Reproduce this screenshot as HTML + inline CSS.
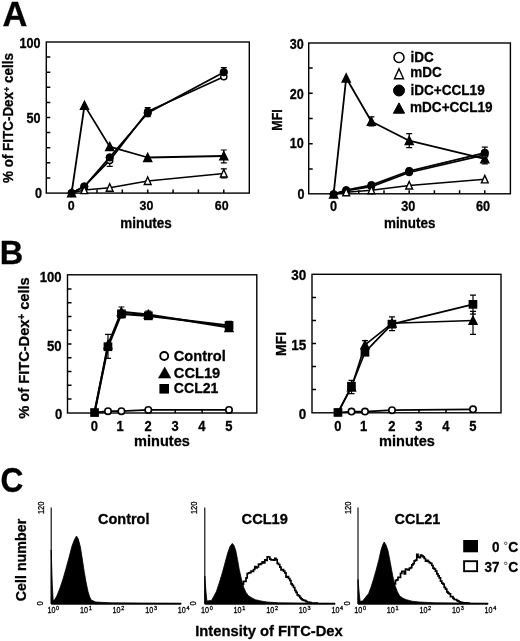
<!DOCTYPE html>
<html><head><meta charset="utf-8"><title>Figure</title>
<style>html,body{margin:0;padding:0;background:#fff}svg{display:block;filter:grayscale(1) blur(0.35px)}text{font-family:"Liberation Sans",sans-serif;fill:#000;stroke:#000;stroke-width:0.3px}</style></head><body>
<svg width="520" height="641" viewBox="0 0 520 641">
<rect width="520" height="641" fill="#fff"/>
<text x="2.4" y="26" font-size="34.2" text-anchor="start" font-weight="bold" textLength="24.9" lengthAdjust="spacingAndGlyphs" >A</text>
<text x="-0.3" y="263.7" font-size="34" text-anchor="start" font-weight="bold" textLength="23.5" lengthAdjust="spacingAndGlyphs" >B</text>
<text x="0.6" y="491.7" font-size="35.2" text-anchor="start" font-weight="bold" textLength="22.9" lengthAdjust="spacingAndGlyphs" >C</text>
<rect x="46.3" y="42" width="203.0" height="151.1" fill="none" stroke="#000" stroke-width="1.4"/>
<path d="M46.3,177.9h4M46.3,162.8h4M46.3,147.7h4M46.3,132.6h4M46.3,117.5h4M46.3,102.4h4M46.3,87.3h4M46.3,72.2h4M46.3,57.1h4" stroke="#000" stroke-width="1.5" fill="none"/>
<path d="M71.6,193.1v-3.5M97.0,193.1v-3.5M122.3,193.1v-3.5M147.7,193.1v-3.5M173.1,193.1v-3.5M198.4,193.1v-3.5M223.8,193.1v-3.5" stroke="#000" stroke-width="1.5" fill="none"/>
<text x="40.6" y="47.6" font-size="14" text-anchor="end" font-weight="bold" textLength="21.0" lengthAdjust="spacingAndGlyphs" >100</text>
<text x="40.6" y="123.4" font-size="14" text-anchor="end" font-weight="bold" textLength="14.0" lengthAdjust="spacingAndGlyphs" >50</text>
<text x="42" y="197.8" font-size="14" text-anchor="end" font-weight="bold" textLength="7.0" lengthAdjust="spacingAndGlyphs" >0</text>
<text x="71.3" y="210.3" font-size="13.6" text-anchor="middle" font-weight="bold" textLength="6.9" lengthAdjust="spacingAndGlyphs" >0</text>
<text x="146.50999999999996" y="210.3" font-size="13.6" text-anchor="middle" font-weight="bold" textLength="13.8" lengthAdjust="spacingAndGlyphs" >30</text>
<text x="221.71999999999997" y="210.3" font-size="13.6" text-anchor="middle" font-weight="bold" textLength="13.8" lengthAdjust="spacingAndGlyphs" >60</text>
<text x="146" y="227.8" font-size="14" text-anchor="middle" font-weight="bold" textLength="51.5" lengthAdjust="spacingAndGlyphs" >minutes</text>
<text transform="translate(12.5,118) rotate(-90)" font-size="14" text-anchor="middle" font-weight="bold" textLength="130" lengthAdjust="spacingAndGlyphs">% of FITC-Dex<tspan font-size="9.5" dy="-3">+</tspan><tspan dy="3"> cells</tspan></text>
<path d="M71.6,193.0 L84.3,190.0 L109.7,187.7 L147.7,180.9 L223.8,173.4" fill="none" stroke="#000" stroke-width="1.5" stroke-linejoin="round"/>
<path d="M71.6,193.0 L84.5,105.4 L109.7,146.6 L147.7,157.5 L223.8,156.0" fill="none" stroke="#000" stroke-width="1.8" stroke-linejoin="round"/>
<path d="M71.6,193.0 L84.3,186.5 L109.7,160.4 L147.7,111.5 L223.8,76.7" fill="none" stroke="#000" stroke-width="1.7" stroke-linejoin="round"/>
<path d="M71.6,193.0 L84.3,186.5 L109.7,157.4 L147.7,113.0 L223.8,72.2" fill="none" stroke="#000" stroke-width="1.8" stroke-linejoin="round"/>
<path d="M109.7,159.8V166.4M106.7,159.8H112.7M106.7,166.4H112.7" stroke="#000" stroke-width="1.2" fill="none"/>
<path d="M223.8,150.0V162.8M220.8,150.0H226.8M220.8,162.8H226.8" stroke="#000" stroke-width="1.2" fill="none"/>
<path d="M223.8,168.8V177.9M220.8,168.8H226.8M220.8,177.9H226.8" stroke="#000" stroke-width="1.2" fill="none"/>
<path d="M223.8,67.7V76.7M220.8,67.7H226.8M220.8,76.7H226.8" stroke="#000" stroke-width="1.2" fill="none"/>
<path d="M147.7,107.7V116.7M144.7,107.7H150.7M144.7,116.7H150.7" stroke="#000" stroke-width="1.2" fill="none"/>
<polygon points="71.6,188.7 75.7,196.9 67.5,196.9" fill="#000" stroke="#000" stroke-width="1.3" stroke-linejoin="miter"/>
<polygon points="84.5,101.2 88.6,109.4 80.4,109.4" fill="#000" stroke="#000" stroke-width="1.3" stroke-linejoin="miter"/>
<polygon points="109.7,142.4 113.8,150.6 105.6,150.6" fill="#000" stroke="#000" stroke-width="1.3" stroke-linejoin="miter"/>
<polygon points="147.7,153.3 151.8,161.5 143.6,161.5" fill="#000" stroke="#000" stroke-width="1.3" stroke-linejoin="miter"/>
<polygon points="223.8,151.7 227.9,159.9 219.7,159.9" fill="#000" stroke="#000" stroke-width="1.3" stroke-linejoin="miter"/>
<circle cx="84.3" cy="186.5" r="3.1" fill="#fff" stroke="#000" stroke-width="1.4"/>
<circle cx="109.7" cy="160.4" r="3.1" fill="#fff" stroke="#000" stroke-width="1.4"/>
<circle cx="147.7" cy="111.5" r="3.1" fill="#fff" stroke="#000" stroke-width="1.4"/>
<circle cx="223.8" cy="76.7" r="3.1" fill="#fff" stroke="#000" stroke-width="1.4"/>
<circle cx="71.6" cy="193.0" r="3.7" fill="#000" stroke="#000" stroke-width="1.0"/>
<circle cx="84.3" cy="186.5" r="3.7" fill="#000" stroke="#000" stroke-width="1.0"/>
<circle cx="109.7" cy="157.4" r="3.7" fill="#000" stroke="#000" stroke-width="1.0"/>
<circle cx="147.7" cy="113.0" r="3.7" fill="#000" stroke="#000" stroke-width="1.0"/>
<circle cx="223.8" cy="72.2" r="3.7" fill="#000" stroke="#000" stroke-width="1.0"/>
<polygon points="84.3,186.1 87.7,193.6 80.9,193.6" fill="#fff" stroke="#000" stroke-width="1.4" stroke-linejoin="miter"/>
<polygon points="109.7,183.8 113.1,191.3 106.3,191.3" fill="#fff" stroke="#000" stroke-width="1.4" stroke-linejoin="miter"/>
<polygon points="147.7,177.0 151.1,184.5 144.3,184.5" fill="#fff" stroke="#000" stroke-width="1.4" stroke-linejoin="miter"/>
<polygon points="223.8,169.5 227.2,177.0 220.4,177.0" fill="#fff" stroke="#000" stroke-width="1.4" stroke-linejoin="miter"/>
<rect x="308.7" y="43" width="201.7" height="150.8" fill="none" stroke="#000" stroke-width="1.4"/>
<path d="M308.7,168.9h4M308.7,143.7h4M308.7,118.4h4M308.7,93.2h4M308.7,67.9h4" stroke="#000" stroke-width="1.5" fill="none"/>
<path d="M333.6,193.8v-3.5M358.8,193.8v-3.5M384.0,193.8v-3.5M409.2,193.8v-3.5M434.4,193.8v-3.5M459.6,193.8v-3.5M484.8,193.8v-3.5" stroke="#000" stroke-width="1.5" fill="none"/>
<text x="303.8" y="48.5" font-size="14.2" text-anchor="end" font-weight="bold" textLength="14.0" lengthAdjust="spacingAndGlyphs" >30</text>
<text x="303.8" y="98.9" font-size="14.2" text-anchor="end" font-weight="bold" textLength="14.0" lengthAdjust="spacingAndGlyphs" >20</text>
<text x="303.8" y="148.2" font-size="14.2" text-anchor="end" font-weight="bold" textLength="14.0" lengthAdjust="spacingAndGlyphs" >10</text>
<text x="304.5" y="199.2" font-size="14.2" text-anchor="end" font-weight="bold" textLength="7.0" lengthAdjust="spacingAndGlyphs" >0</text>
<text x="333.40000000000003" y="211.2" font-size="14.2" text-anchor="middle" font-weight="bold" textLength="7.05" lengthAdjust="spacingAndGlyphs" >0</text>
<text x="408.25000000000006" y="211.2" font-size="14.2" text-anchor="middle" font-weight="bold" textLength="14.1" lengthAdjust="spacingAndGlyphs" >30</text>
<text x="483.1" y="211.2" font-size="14.2" text-anchor="middle" font-weight="bold" textLength="14.1" lengthAdjust="spacingAndGlyphs" >60</text>
<text x="409.7" y="227.8" font-size="14" text-anchor="middle" font-weight="bold" textLength="51.5" lengthAdjust="spacingAndGlyphs" >minutes</text>
<text transform="translate(281.8,120) rotate(-90)" font-size="14.2" text-anchor="middle" font-weight="bold" textLength="21.5" lengthAdjust="spacingAndGlyphs">MFI</text>
<path d="M333.6,194.2 L346.2,192.2 L371.4,190.2 L409.2,185.4 L484.8,179.3" fill="none" stroke="#000" stroke-width="1.5" stroke-linejoin="round"/>
<path d="M333.6,194.2 L346.2,78.0 L371.4,121.5 L409.2,140.7 L484.8,158.8" fill="none" stroke="#000" stroke-width="1.8" stroke-linejoin="round"/>
<path d="M333.6,194.2 L346.2,190.7 L371.4,186.6 L409.2,172.5 L484.8,154.8" fill="none" stroke="#000" stroke-width="1.7" stroke-linejoin="round"/>
<path d="M333.6,194.2 L346.2,190.2 L371.4,185.1 L409.2,171.0 L484.8,152.8" fill="none" stroke="#000" stroke-width="1.8" stroke-linejoin="round"/>
<path d="M409.2,133.6V147.7M406.2,133.6H412.2M406.2,147.7H412.2" stroke="#000" stroke-width="1.2" fill="none"/>
<path d="M371.4,116.9V126.0M368.4,116.9H374.4M368.4,126.0H374.4" stroke="#000" stroke-width="1.2" fill="none"/>
<path d="M484.8,147.2V163.9M481.8,147.2H487.8M481.8,163.9H487.8" stroke="#000" stroke-width="1.2" fill="none"/>
<polygon points="333.6,189.9 337.7,198.1 329.5,198.1" fill="#000" stroke="#000" stroke-width="1.3" stroke-linejoin="miter"/>
<polygon points="346.2,73.8 350.3,82.0 342.1,82.0" fill="#000" stroke="#000" stroke-width="1.3" stroke-linejoin="miter"/>
<polygon points="371.4,117.2 375.5,125.4 367.3,125.4" fill="#000" stroke="#000" stroke-width="1.3" stroke-linejoin="miter"/>
<polygon points="409.2,136.4 413.3,144.6 405.1,144.6" fill="#000" stroke="#000" stroke-width="1.3" stroke-linejoin="miter"/>
<polygon points="484.8,154.6 488.9,162.8 480.7,162.8" fill="#000" stroke="#000" stroke-width="1.3" stroke-linejoin="miter"/>
<circle cx="346.2" cy="190.7" r="3.1" fill="#fff" stroke="#000" stroke-width="1.4"/>
<circle cx="371.4" cy="186.6" r="3.1" fill="#fff" stroke="#000" stroke-width="1.4"/>
<circle cx="409.2" cy="172.5" r="3.1" fill="#fff" stroke="#000" stroke-width="1.4"/>
<circle cx="484.8" cy="154.8" r="3.1" fill="#fff" stroke="#000" stroke-width="1.4"/>
<circle cx="333.6" cy="194.2" r="3.7" fill="#000" stroke="#000" stroke-width="1.0"/>
<circle cx="346.2" cy="190.2" r="3.7" fill="#000" stroke="#000" stroke-width="1.0"/>
<circle cx="371.4" cy="185.1" r="3.7" fill="#000" stroke="#000" stroke-width="1.0"/>
<circle cx="409.2" cy="171.0" r="3.7" fill="#000" stroke="#000" stroke-width="1.0"/>
<circle cx="484.8" cy="152.8" r="3.7" fill="#000" stroke="#000" stroke-width="1.0"/>
<polygon points="346.2,188.3 349.6,195.8 342.8,195.8" fill="#fff" stroke="#000" stroke-width="1.4" stroke-linejoin="miter"/>
<polygon points="371.4,186.3 374.8,193.8 368.0,193.8" fill="#fff" stroke="#000" stroke-width="1.4" stroke-linejoin="miter"/>
<polygon points="409.2,181.5 412.6,189.0 405.8,189.0" fill="#fff" stroke="#000" stroke-width="1.4" stroke-linejoin="miter"/>
<polygon points="484.8,175.4 488.2,182.9 481.4,182.9" fill="#fff" stroke="#000" stroke-width="1.4" stroke-linejoin="miter"/>
<circle cx="399.0" cy="57.5" r="5" fill="#fff" stroke="#000" stroke-width="1.5"/>
<text x="410.4" y="62" font-size="14.7" text-anchor="start" font-weight="bold" textLength="23.3" lengthAdjust="spacingAndGlyphs" >iDC</text>
<polygon points="399.0,68.8 403.5,78.8 394.5,78.8" fill="#fff" stroke="#000" stroke-width="1.4" stroke-linejoin="miter"/>
<text x="410.2" y="76.8" font-size="14.7" text-anchor="start" font-weight="bold" textLength="31.5" lengthAdjust="spacingAndGlyphs" >mDC</text>
<circle cx="399.0" cy="90.5" r="5.5" fill="#000" stroke="#000" stroke-width="1"/>
<text x="410.4" y="94.6" font-size="14.7" text-anchor="start" font-weight="bold" textLength="74.3" lengthAdjust="spacingAndGlyphs" >iDC+CCL19</text>
<polygon points="399.0,102.9 404.6,113.2 393.4,113.2" fill="#000" stroke="#000" stroke-width="1" stroke-linejoin="miter"/>
<text x="410" y="112.4" font-size="14.7" text-anchor="start" font-weight="bold" textLength="82.5" lengthAdjust="spacingAndGlyphs" >mDC+CCL19</text>
<rect x="67.5" y="274.8" width="189.3" height="138.2" fill="none" stroke="#000" stroke-width="1.4"/>
<path d="M67.5,398.9h4M67.5,385.2h4M67.5,371.4h4M67.5,357.7h4M67.5,344.0h4M67.5,330.3h4M67.5,316.6h4M67.5,302.8h4M67.5,289.1h4" stroke="#000" stroke-width="1.5" fill="none"/>
<path d="M94.5,413v-3.5M121.4,413v-3.5M148.3,413v-3.5M175.2,413v-3.5M202.1,413v-3.5M229.0,413v-3.5" stroke="#000" stroke-width="1.5" fill="none"/>
<text x="61.6" y="282" font-size="14.8" text-anchor="end" font-weight="bold" textLength="21.9" lengthAdjust="spacingAndGlyphs" >100</text>
<text x="61.6" y="351.4" font-size="14.8" text-anchor="end" font-weight="bold" textLength="14.6" lengthAdjust="spacingAndGlyphs" >50</text>
<text x="62.4" y="418.8" font-size="14.8" text-anchor="end" font-weight="bold" textLength="7.3" lengthAdjust="spacingAndGlyphs" >0</text>
<text x="94.3" y="431" font-size="14.2" text-anchor="middle" font-weight="bold" textLength="7.2" lengthAdjust="spacingAndGlyphs" >0</text>
<text x="120.10000000000001" y="431" font-size="14.2" text-anchor="middle" font-weight="bold" textLength="7.2" lengthAdjust="spacingAndGlyphs" >1</text>
<text x="148.10000000000002" y="431" font-size="14.2" text-anchor="middle" font-weight="bold" textLength="7.2" lengthAdjust="spacingAndGlyphs" >2</text>
<text x="175.0" y="431" font-size="14.2" text-anchor="middle" font-weight="bold" textLength="7.2" lengthAdjust="spacingAndGlyphs" >3</text>
<text x="201.9" y="431" font-size="14.2" text-anchor="middle" font-weight="bold" textLength="7.2" lengthAdjust="spacingAndGlyphs" >4</text>
<text x="228.8" y="431" font-size="14.2" text-anchor="middle" font-weight="bold" textLength="7.2" lengthAdjust="spacingAndGlyphs" >5</text>
<text x="162" y="445.7" font-size="15.3" text-anchor="middle" font-weight="bold" textLength="55.8" lengthAdjust="spacingAndGlyphs" >minutes</text>
<text transform="translate(28.5,348) rotate(-90)" font-size="15.2" text-anchor="middle" font-weight="bold" textLength="141.5" lengthAdjust="spacingAndGlyphs">% of FITC-Dex<tspan font-size="10" dy="-3.3">+</tspan><tspan dy="3.3"> cells</tspan></text>
<path d="M94.5,412.6 L108.0,411.2 L121.4,411.2 L148.3,409.9 L229.0,409.9" fill="none" stroke="#000" stroke-width="1.7" stroke-linejoin="round"/>
<path d="M94.5,412.6 L108.0,344.7 L121.4,311.8 L148.3,314.5 L229.0,327.5" fill="none" stroke="#000" stroke-width="2" stroke-linejoin="round"/>
<path d="M94.5,412.6 L108.0,346.7 L121.4,313.8 L148.3,315.9 L229.0,325.5" fill="none" stroke="#000" stroke-width="2.2" stroke-linejoin="round"/>
<path d="M108.0,334.4V358.4M105.0,334.4H111.0M105.0,358.4H111.0" stroke="#000" stroke-width="1.2" fill="none"/>
<path d="M121.4,307.0V317.9M118.4,307.0H124.4M118.4,317.9H124.4" stroke="#000" stroke-width="1.2" fill="none"/>
<path d="M148.3,311.1V319.3M145.3,311.1H151.3M145.3,319.3H151.3" stroke="#000" stroke-width="1.2" fill="none"/>
<path d="M229.0,321.4V331.0M226.0,321.4H232.0M226.0,331.0H232.0" stroke="#000" stroke-width="1.2" fill="none"/>
<circle cx="108.0" cy="411.2" r="3.2" fill="#fff" stroke="#000" stroke-width="1.6"/>
<circle cx="121.4" cy="411.2" r="3.2" fill="#fff" stroke="#000" stroke-width="1.6"/>
<circle cx="148.3" cy="409.9" r="3.2" fill="#fff" stroke="#000" stroke-width="1.6"/>
<circle cx="229.0" cy="409.9" r="3.2" fill="#fff" stroke="#000" stroke-width="1.6"/>
<polygon points="108.0,340.4 112.0,348.6 103.9,348.6" fill="#000" stroke="#000" stroke-width="1.3" stroke-linejoin="miter"/>
<polygon points="121.4,307.5 125.5,315.7 117.3,315.7" fill="#000" stroke="#000" stroke-width="1.3" stroke-linejoin="miter"/>
<polygon points="148.3,310.2 152.4,318.4 144.2,318.4" fill="#000" stroke="#000" stroke-width="1.3" stroke-linejoin="miter"/>
<polygon points="229.0,323.3 233.1,331.5 224.9,331.5" fill="#000" stroke="#000" stroke-width="1.3" stroke-linejoin="miter"/>
<rect x="90.2" y="408.2" width="8.7" height="8.7" fill="#000"/>
<rect x="103.6" y="342.4" width="8.7" height="8.7" fill="#000"/>
<rect x="117.1" y="309.5" width="8.7" height="8.7" fill="#000"/>
<rect x="144.0" y="311.5" width="8.7" height="8.7" fill="#000"/>
<rect x="224.7" y="321.1" width="8.7" height="8.7" fill="#000"/>
<circle cx="164.2" cy="356.0" r="4.0" fill="#fff" stroke="#000" stroke-width="1.9"/>
<text x="173.8" y="361" font-size="15.1" text-anchor="start" font-weight="bold" textLength="52" lengthAdjust="spacingAndGlyphs" >Control</text>
<polygon points="164.7,367.1 170.9,378.1 158.4,378.1" fill="#000" stroke="#000" stroke-width="0.5" stroke-linejoin="miter"/>
<text x="173.8" y="377.6" font-size="15.1" text-anchor="start" font-weight="bold" textLength="46.4" lengthAdjust="spacingAndGlyphs" >CCL19</text>
<rect x="159.4" y="384.0" width="9.6" height="9.6" fill="#000"/>
<text x="173.8" y="393" font-size="15.1" text-anchor="start" font-weight="bold" textLength="44.6" lengthAdjust="spacingAndGlyphs" >CCL21</text>
<rect x="312" y="274.3" width="189" height="138.5" fill="none" stroke="#000" stroke-width="1.4"/>
<path d="M312,389.5h4M312,366.5h4M312,343.5h4M312,320.5h4M312,297.5h4" stroke="#000" stroke-width="1.5" fill="none"/>
<path d="M338.0,412.8v-3.5M365.0,412.8v-3.5M392.0,412.8v-3.5M419.0,412.8v-3.5M446.0,412.8v-3.5M473.0,412.8v-3.5" stroke="#000" stroke-width="1.5" fill="none"/>
<text x="306.2" y="279.5" font-size="14.4" text-anchor="end" font-weight="bold" textLength="15.0" lengthAdjust="spacingAndGlyphs" >30</text>
<text x="306.2" y="350" font-size="14.4" text-anchor="end" font-weight="bold" textLength="15.0" lengthAdjust="spacingAndGlyphs" >15</text>
<text x="306.2" y="418.5" font-size="14.4" text-anchor="end" font-weight="bold" textLength="7.5" lengthAdjust="spacingAndGlyphs" >0</text>
<text x="337.8" y="431" font-size="14.2" text-anchor="middle" font-weight="bold" textLength="7.2" lengthAdjust="spacingAndGlyphs" >0</text>
<text x="363.7" y="431" font-size="14.2" text-anchor="middle" font-weight="bold" textLength="7.2" lengthAdjust="spacingAndGlyphs" >1</text>
<text x="391.8" y="431" font-size="14.2" text-anchor="middle" font-weight="bold" textLength="7.2" lengthAdjust="spacingAndGlyphs" >2</text>
<text x="418.8" y="431" font-size="14.2" text-anchor="middle" font-weight="bold" textLength="7.2" lengthAdjust="spacingAndGlyphs" >3</text>
<text x="445.8" y="431" font-size="14.2" text-anchor="middle" font-weight="bold" textLength="7.2" lengthAdjust="spacingAndGlyphs" >4</text>
<text x="472.8" y="431" font-size="14.2" text-anchor="middle" font-weight="bold" textLength="7.2" lengthAdjust="spacingAndGlyphs" >5</text>
<text x="407" y="445.7" font-size="15.3" text-anchor="middle" font-weight="bold" textLength="55.8" lengthAdjust="spacingAndGlyphs" >minutes</text>
<text transform="translate(286.4,344) rotate(-90)" font-size="15.5" text-anchor="middle" font-weight="bold" textLength="24" lengthAdjust="spacingAndGlyphs">MFI</text>
<path d="M338.0,412.5 L351.5,411.6 L365.0,411.6 L392.0,410.2 L473.0,409.3" fill="none" stroke="#000" stroke-width="1.7" stroke-linejoin="round"/>
<path d="M338.0,412.5 L351.5,387.2 L365.0,344.9 L392.0,323.3 L473.0,320.5" fill="none" stroke="#000" stroke-width="1.6" stroke-linejoin="round"/>
<path d="M338.0,412.5 L351.5,386.3 L365.0,352.2 L392.0,324.2 L473.0,304.4" fill="none" stroke="#000" stroke-width="1.7" stroke-linejoin="round"/>
<path d="M351.5,380.3V393.6M348.5,380.3H354.5M348.5,393.6H354.5" stroke="#000" stroke-width="1.2" fill="none"/>
<path d="M365.0,340.7V354.5M362.0,340.7H368.0M362.0,354.5H368.0" stroke="#000" stroke-width="1.2" fill="none"/>
<path d="M392.0,316.8V330.6M389.0,316.8H395.0M389.0,330.6H395.0" stroke="#000" stroke-width="1.2" fill="none"/>
<path d="M473.0,295.2V314.1M470.0,295.2H476.0M470.0,314.1H476.0" stroke="#000" stroke-width="1.2" fill="none"/>
<path d="M473.0,311.3V334.3M470.0,311.3H476.0M470.0,334.3H476.0" stroke="#000" stroke-width="1.2" fill="none"/>
<circle cx="351.5" cy="411.6" r="3.2" fill="#fff" stroke="#000" stroke-width="1.6"/>
<circle cx="365.0" cy="411.6" r="3.2" fill="#fff" stroke="#000" stroke-width="1.6"/>
<circle cx="392.0" cy="410.2" r="3.2" fill="#fff" stroke="#000" stroke-width="1.6"/>
<circle cx="473.0" cy="409.3" r="3.2" fill="#fff" stroke="#000" stroke-width="1.6"/>
<polygon points="351.5,382.9 355.6,391.1 347.4,391.1" fill="#000" stroke="#000" stroke-width="1.3" stroke-linejoin="miter"/>
<polygon points="365.0,340.6 369.1,348.8 360.9,348.8" fill="#000" stroke="#000" stroke-width="1.3" stroke-linejoin="miter"/>
<polygon points="392.0,319.0 396.1,327.2 387.9,327.2" fill="#000" stroke="#000" stroke-width="1.3" stroke-linejoin="miter"/>
<polygon points="473.0,316.2 477.1,324.4 468.9,324.4" fill="#000" stroke="#000" stroke-width="1.3" stroke-linejoin="miter"/>
<rect x="333.6" y="408.1" width="8.7" height="8.7" fill="#000"/>
<rect x="347.1" y="381.9" width="8.7" height="8.7" fill="#000"/>
<rect x="360.6" y="347.9" width="8.7" height="8.7" fill="#000"/>
<rect x="387.6" y="319.8" width="8.7" height="8.7" fill="#000"/>
<rect x="468.6" y="300.0" width="8.7" height="8.7" fill="#000"/>
<text transform="translate(26.3,560) rotate(-90)" font-size="14.5" text-anchor="middle" font-weight="bold" textLength="82.5" lengthAdjust="spacingAndGlyphs">Cell number</text>
<path d="M51.2,507.5V603.5H181.2" stroke="#000" stroke-width="1.1" fill="none"/>
<text transform="translate(43.800000000000004,507.8) rotate(-90)" font-size="8.8" text-anchor="middle" font-weight="normal" textLength="12.6" lengthAdjust="spacingAndGlyphs">120</text>
<text transform="translate(42.800000000000004,603.3) rotate(-90)" font-size="8.8" text-anchor="middle" font-weight="normal" textLength="4.2" lengthAdjust="spacingAndGlyphs">0</text>
<text x="47.4" y="613.3" font-size="8.6" font-weight="normal" textLength="8" lengthAdjust="spacingAndGlyphs">10</text>
<text x="56.1" y="609.6" font-size="5.5" font-weight="normal">0</text>
<text x="80.0" y="613.3" font-size="8.6" font-weight="normal" textLength="8" lengthAdjust="spacingAndGlyphs">10</text>
<text x="88.7" y="609.6" font-size="5.5" font-weight="normal">1</text>
<text x="112.6" y="613.3" font-size="8.6" font-weight="normal" textLength="8" lengthAdjust="spacingAndGlyphs">10</text>
<text x="121.3" y="609.6" font-size="5.5" font-weight="normal">2</text>
<text x="145.2" y="613.3" font-size="8.6" font-weight="normal" textLength="8" lengthAdjust="spacingAndGlyphs">10</text>
<text x="153.9" y="609.6" font-size="5.5" font-weight="normal">3</text>
<text x="177.8" y="613.3" font-size="8.6" font-weight="normal" textLength="8" lengthAdjust="spacingAndGlyphs">10</text>
<text x="186.5" y="609.6" font-size="5.5" font-weight="normal">4</text>
<path d="M51.2,603.8 L51.2,550.0 L52.3,585.0 L53.2,600.5 L54.5,600.0 L57.0,595.5 L60.0,588.0 L63.0,579.0 L66.0,568.5 L69.0,557.5 L72.0,546.0 L74.5,539.5 L76.5,536.0 L78.3,539.0 L80.4,547.0 L82.3,559.0 L84.2,571.5 L86.0,582.0 L88.0,591.5 L89.7,597.0 L91.2,600.0 L95.8,602.0 L110.0,602.8 L140.0,603.0 L181.0,603.2 L181.0,604.3 L51.2,604.3" fill="#000" stroke="#000" stroke-width="0.8" stroke-linejoin="round"/>
<path d="M204.8,507.5V603.5H334.8" stroke="#000" stroke-width="1.1" fill="none"/>
<text transform="translate(197.4,507.8) rotate(-90)" font-size="8.8" text-anchor="middle" font-weight="normal" textLength="12.6" lengthAdjust="spacingAndGlyphs">120</text>
<text transform="translate(196.4,603.3) rotate(-90)" font-size="8.8" text-anchor="middle" font-weight="normal" textLength="4.2" lengthAdjust="spacingAndGlyphs">0</text>
<text x="201.0" y="613.3" font-size="8.6" font-weight="normal" textLength="8" lengthAdjust="spacingAndGlyphs">10</text>
<text x="209.7" y="609.6" font-size="5.5" font-weight="normal">0</text>
<text x="233.6" y="613.3" font-size="8.6" font-weight="normal" textLength="8" lengthAdjust="spacingAndGlyphs">10</text>
<text x="242.3" y="609.6" font-size="5.5" font-weight="normal">1</text>
<text x="266.2" y="613.3" font-size="8.6" font-weight="normal" textLength="8" lengthAdjust="spacingAndGlyphs">10</text>
<text x="274.9" y="609.6" font-size="5.5" font-weight="normal">2</text>
<text x="298.8" y="613.3" font-size="8.6" font-weight="normal" textLength="8" lengthAdjust="spacingAndGlyphs">10</text>
<text x="307.5" y="609.6" font-size="5.5" font-weight="normal">3</text>
<text x="331.4" y="613.3" font-size="8.6" font-weight="normal" textLength="8" lengthAdjust="spacingAndGlyphs">10</text>
<text x="340.1" y="609.6" font-size="5.5" font-weight="normal">4</text>
<path d="M236.0,603.0H237.2V599.7H238.5V596.1H239.8V593.0H241.0V589.4H242.2V584.2H243.5V581.4H244.8V581.5H246.0V577.9H247.2V573.5H248.5V572.8H249.8V572.7H251.0V571.2H252.2V571.5H253.5V569.5H254.8V566.7H256.0V567.9H257.2V567.0H258.5V564.1H259.8V564.5H261.0V563.5H262.2V561.8H263.5V563.0H264.8V559.8H266.0V560.5H267.2V556.9H268.5V557.0H269.8V559.1H271.0V559.8H272.2V559.9H273.5V560.1H274.8V558.3H276.0V559.7H277.2V563.4H278.5V564.5H279.8V567.1H281.0V570.0H282.2V569.5H283.5V571.1H284.8V572.8H286.0V577.2H287.2V576.7H288.5V578.5H289.8V580.5H291.0V583.8H292.2V585.3H293.5V587.5H294.8V590.5H296.0V592.4H297.2V594.8H298.5V595.8H299.8V597.7H301.0V598.8H302.2V599.8H303.5V600.4H304.8V600.7H306.0V601.6H307.2V602.0H308.5V602.4H309.8V602.7H311.0V603.0H312.2V603.0H313.5V603.1H314.8V603.2H316.0V603.2H317.2V603.3" fill="none" stroke="#000" stroke-width="1.7" stroke-linejoin="miter"/>
<path d="M204.8,603.8 L204.8,576.0 L206.0,592.0 L206.9,601.0 L211.5,600.4 L213.7,596.6 L216.4,591.5 L219.2,583.0 L222.3,573.0 L225.1,562.6 L227.7,553.0 L230.0,546.5 L232.3,543.4 L234.0,545.5 L235.8,550.8 L237.5,559.5 L239.2,569.2 L241.5,579.5 L243.8,587.7 L246.0,592.5 L248.5,595.8 L252.0,598.0 L255.4,599.7 L261.0,601.0 L267.0,602.0 L278.5,602.8 L300.0,603.0 L335.0,603.2 L335.0,604.3 L204.8,604.3" fill="#000" stroke="#000" stroke-width="0.8" stroke-linejoin="round"/>
<path d="M358,507.5V603.5H488" stroke="#000" stroke-width="1.1" fill="none"/>
<text transform="translate(350.6,507.8) rotate(-90)" font-size="8.8" text-anchor="middle" font-weight="normal" textLength="12.6" lengthAdjust="spacingAndGlyphs">120</text>
<text transform="translate(349.6,603.3) rotate(-90)" font-size="8.8" text-anchor="middle" font-weight="normal" textLength="4.2" lengthAdjust="spacingAndGlyphs">0</text>
<text x="354.2" y="613.3" font-size="8.6" font-weight="normal" textLength="8" lengthAdjust="spacingAndGlyphs">10</text>
<text x="362.9" y="609.6" font-size="5.5" font-weight="normal">0</text>
<text x="386.8" y="613.3" font-size="8.6" font-weight="normal" textLength="8" lengthAdjust="spacingAndGlyphs">10</text>
<text x="395.5" y="609.6" font-size="5.5" font-weight="normal">1</text>
<text x="419.4" y="613.3" font-size="8.6" font-weight="normal" textLength="8" lengthAdjust="spacingAndGlyphs">10</text>
<text x="428.1" y="609.6" font-size="5.5" font-weight="normal">2</text>
<text x="452.0" y="613.3" font-size="8.6" font-weight="normal" textLength="8" lengthAdjust="spacingAndGlyphs">10</text>
<text x="460.7" y="609.6" font-size="5.5" font-weight="normal">3</text>
<text x="484.6" y="613.3" font-size="8.6" font-weight="normal" textLength="8" lengthAdjust="spacingAndGlyphs">10</text>
<text x="493.3" y="609.6" font-size="5.5" font-weight="normal">4</text>
<path d="M388.0,603.0H389.2V598.9H390.5V595.8H391.8V590.7H393.0V588.1H394.2V583.9H395.5V580.3H396.8V579.9H398.0V577.4H399.2V577.4H400.5V573.4H401.8V571.4H403.0V571.3H404.2V573.8H405.5V569.0H406.8V569.5H408.0V569.9H409.2V568.4H410.5V567.7H411.8V564.8H413.0V563.7H414.2V560.8H415.5V560.1H416.8V554.4H418.0V557.1H419.2V557.7H420.5V555.2H421.8V555.9H423.0V556.8H424.2V558.5H425.5V561.2H426.8V560.4H428.0V561.5H429.2V562.6H430.5V563.3H431.8V565.5H433.0V568.2H434.2V569.2H435.5V571.2H436.8V573.8H438.0V575.9H439.2V577.8H440.5V581.2H441.8V583.1H443.0V584.1H444.2V587.3H445.5V589.1H446.8V591.9H448.0V593.2H449.2V593.9H450.5V596.7H451.8V596.7H453.0V598.4H454.2V599.5H455.5V599.7H456.8V600.7H458.0V601.1H459.2V601.9H460.5V602.3H461.8V602.6H463.0V602.8H464.2V602.8H465.5V602.9H466.8V603.0H468.0V603.1H469.2V603.2" fill="none" stroke="#000" stroke-width="1.7" stroke-linejoin="miter"/>
<path d="M358.0,603.8 L358.0,579.5 L359.2,593.0 L360.1,601.3 L362.7,601.0 L365.0,598.0 L368.6,593.6 L371.0,587.2 L373.4,579.6 L376.0,570.5 L378.8,560.0 L381.0,550.0 L382.8,544.5 L384.2,542.0 L386.0,545.0 L388.0,550.8 L389.8,560.0 L391.5,569.2 L393.2,578.0 L395.0,585.4 L397.3,591.5 L399.6,595.8 L403.0,598.3 L406.5,599.7 L412.0,601.2 L419.2,602.0 L435.0,602.8 L460.0,603.0 L488.0,603.2 L488.0,604.3 L358.0,604.3" fill="#000" stroke="#000" stroke-width="0.8" stroke-linejoin="round"/>
<text x="98" y="524" font-size="14.2" text-anchor="start" font-weight="bold" textLength="51.5" lengthAdjust="spacingAndGlyphs" >Control</text>
<text x="241.6" y="524" font-size="14.2" text-anchor="start" font-weight="bold" textLength="46.3" lengthAdjust="spacingAndGlyphs" >CCL19</text>
<text x="394.6" y="524" font-size="14.2" text-anchor="start" font-weight="bold" textLength="45.7" lengthAdjust="spacingAndGlyphs" >CCL21</text>
<text x="195.2" y="636" font-size="15.1" text-anchor="start" font-weight="bold" textLength="147.6" lengthAdjust="spacingAndGlyphs" >Intensity of FITC-Dex</text>
<rect x="463.2" y="540" width="14.8" height="12.3" fill="#000"/>
<rect x="464.1" y="561.2" width="13" height="10" fill="#fff" stroke="#000" stroke-width="1.9"/>
<text x="499.5" y="551.7" font-size="14.2" text-anchor="end" font-weight="bold" textLength="7.5" lengthAdjust="spacingAndGlyphs" >0</text>
<text x="499.5" y="571.7" font-size="14.2" text-anchor="end" font-weight="bold" textLength="15" lengthAdjust="spacingAndGlyphs" >37</text>
<text x="508.3" y="551.7" font-size="14.2" text-anchor="start" font-weight="bold" textLength="10" lengthAdjust="spacingAndGlyphs" >C</text>
<text x="508.3" y="571.7" font-size="14.2" text-anchor="start" font-weight="bold" textLength="10" lengthAdjust="spacingAndGlyphs" >C</text>
<circle cx="505.7" cy="543.3" r="1.3" fill="none" stroke="#000" stroke-width="0.6"/>
<circle cx="505.7" cy="563.3" r="1.3" fill="none" stroke="#000" stroke-width="0.6"/>
</svg></body></html>
